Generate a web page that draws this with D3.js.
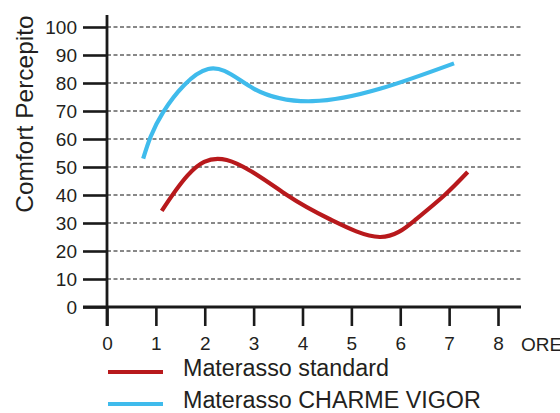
<!DOCTYPE html>
<html>
<head>
<meta charset="utf-8">
<script src="https://cdn.jsdelivr.net/npm/d3@7"></script>
<style>
  body { margin: 0; background: #fff; }
  text { font-family: "Liberation Sans", Arial, sans-serif; fill: #231f20; }
</style>
</head>
<body>
<div id="chart"></div>
<script>
// ore (x) / comfort (y)
var xTicks = [0, 1, 2, 3, 4, 5, 6, 7, 8];
var yTicks = [0, 10, 20, 30, 40, 50, 60, 70, 80, 90, 100];

var standardOre =    [1.12, 1.65, 2.45, 3.68, 4.6, 5.58, 6.3, 6.91, 7.38];
var standardValori = [34.3, 47,   52.5, 40,   31,  25,   31,  40,   48.2];

var vigorOre =    [0.74, 1.15, 2.07, 3.0, 4.2,  5.6, 7.1];
var vigorValori = [53,   69.6, 85,   78,  73.5, 78,  87];

var serie = [
    {name: "Materasso standard", color: "#b8191c", ore: standardOre, valori: standardValori},
    {name: "Materasso CHARME VIGOR", color: "#3fbbec", ore: vigorOre, valori: vigorValori}
];

var w = 560, h = 413;
var svg = d3.select("#chart").append("svg")
    .attr("width", w)
    .attr("height", h);

var x = d3.scaleLinear().domain([0, 8]).range([107, 498]);
var y = d3.scaleLinear().domain([0, 100]).range([307, 27]);

// dashed grid
svg.append("g")
    .selectAll("line")
    .data(yTicks.filter(function(d) { return d > 0; }))
    .enter().append("line")
    .attr("x1", x(0))
    .attr("x2", 521)
    .attr("y1", function(d) { return y(d); })
    .attr("y2", function(d) { return y(d); })
    .attr("stroke", "#111")
    .attr("stroke-width", 1)
    .attr("stroke-dasharray", "4,2.5");

// y axis
var yAxis = svg.append("g")
    .attr("transform", "translate(" + x(0) + ",0)")
    .call(d3.axisLeft(y).tickValues(yTicks).tickSize(24).tickPadding(6));
yAxis.select(".domain").remove();
yAxis.selectAll(".tick line").attr("stroke", "#1a1a1a").attr("stroke-width", 2.6);
yAxis.selectAll(".tick text")
    .attr("font-size", 19)
    .attr("font-family", "Liberation Sans, Arial, sans-serif")
    .attr("fill", "#231f20");

// x axis
var xAxis = svg.append("g")
    .attr("transform", "translate(0," + y(0) + ")")
    .call(d3.axisBottom(x).tickValues(xTicks).tickSize(19).tickPadding(11));
xAxis.select(".domain").remove();
xAxis.selectAll(".tick line").attr("stroke", "#1a1a1a").attr("stroke-width", 2.6);
xAxis.selectAll(".tick text")
    .attr("font-size", 19)
    .attr("font-family", "Liberation Sans, Arial, sans-serif")
    .attr("fill", "#231f20");

// axis lines
svg.append("line")
    .attr("x1", x(0)).attr("x2", x(0))
    .attr("y1", 15).attr("y2", 326)
    .attr("stroke", "#1a1a1a").attr("stroke-width", 2.8);
svg.append("line")
    .attr("x1", 83).attr("x2", 521)
    .attr("y1", y(0)).attr("y2", y(0))
    .attr("stroke", "#1a1a1a").attr("stroke-width", 2.8);

// "ORE" runs off the right edge in the original too
svg.append("text")
    .attr("x", 521)
    .attr("y", 350.5)
    .attr("font-size", 19)
    .text("ORE");

svg.append("text")
    .attr("transform", "translate(33,114) rotate(-90)")
    .attr("text-anchor", "middle")
    .attr("font-size", 24.5)
    .text("Comfort Percepito");

// curves
var line = d3.line()
    .x(function(d) { return x(d[0]); })
    .y(function(d) { return y(d[1]); })
    .curve(d3.curveNatural);

svg.append("g")
    .selectAll("path")
    .data(serie)
    .enter().append("path")
    .attr("d", function(s) { return line(d3.zip(s.ore, s.valori)); })
    .attr("fill", "none")
    .attr("stroke", function(s) { return s.color; })
    .attr("stroke-width", 4.2);

// legend
var legend = svg.append("g")
    .selectAll("g")
    .data(serie)
    .enter().append("g")
    .attr("transform", function(d, i) { return "translate(0," + (372 + i * 32) + ")"; });
legend.append("line")
    .attr("x1", 108).attr("x2", 163)
    .attr("stroke", function(d) { return d.color; })
    .attr("stroke-width", 4.2);
legend.append("text")
    .attr("x", 183)
    .attr("y", 4)
    .attr("font-size", 23.3)
    .text(function(d) { return d.name; });
</script>
</body>
</html>
